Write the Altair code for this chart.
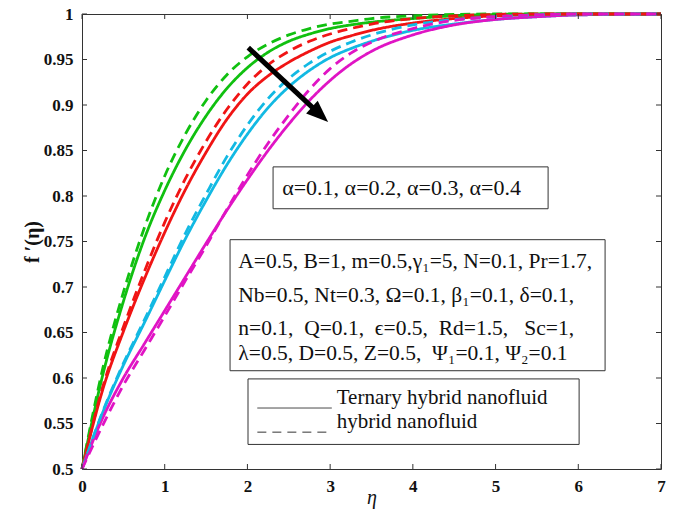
import altair as alt
import pandas as pd

# ---------------- data ----------------
eta = [0, 0.25, 0.5, 0.75, 1, 1.25, 1.5, 1.75, 2, 2.25, 2.5, 2.75, 3, 3.25, 3.5, 4, 4.5, 5, 5.5, 6, 7]

alpha_names = ["α=0.1", "α=0.2", "α=0.3", "α=0.4"]
alpha_colors = ["#10c010", "#f01414", "#12b9e3", "#e014c4"]
fluid_names = ["Ternary hybrid nanofluid", "hybrid nanofluid"]

green_solid = [0.500, 0.603, 0.684, 0.752, 0.806, 0.851, 0.888, 0.918, 0.941, 0.958, 0.970, 0.978, 0.984, 0.988, 0.991, 0.995, 0.998, 0.9995, 1.000, 1.000, 1.000]
green_dash = [0.500, 0.610, 0.694, 0.764, 0.822, 0.868, 0.905, 0.933, 0.953, 0.967, 0.977, 0.984, 0.989, 0.992, 0.995, 0.998, 0.9995, 1.000, 1.000, 1.000, 1.000]
red_solid = [0.500, 0.587, 0.651, 0.708, 0.760, 0.807, 0.848, 0.884, 0.912, 0.932, 0.947, 0.959, 0.969, 0.976, 0.982, 0.990, 0.995, 0.998, 0.9995, 1.000, 1.000]
red_dash = [0.500, 0.590, 0.656, 0.716, 0.771, 0.819, 0.860, 0.895, 0.923, 0.944, 0.959, 0.970, 0.978, 0.984, 0.989, 0.995, 0.998, 0.9995, 1.000, 1.000, 1.000]
cyan_solid = [0.500, 0.562, 0.614, 0.660, 0.707, 0.753, 0.795, 0.834, 0.868, 0.897, 0.920, 0.938, 0.952, 0.962, 0.970, 0.982, 0.989, 0.994, 0.997, 0.999, 1.000]
cyan_dash = [0.500, 0.563, 0.616, 0.663, 0.711, 0.759, 0.802, 0.843, 0.878, 0.907, 0.929, 0.946, 0.959, 0.969, 0.977, 0.988, 0.994, 0.997, 0.999, 1.000, 1.000]
mag_solid = [0.500, 0.556, 0.600, 0.637, 0.674, 0.711, 0.748, 0.784, 0.818, 0.850, 0.879, 0.905, 0.927, 0.945, 0.959, 0.977, 0.988, 0.994, 0.997, 0.999, 1.000]
mag_dash = [0.500, 0.548, 0.592, 0.630, 0.668, 0.707, 0.745, 0.785, 0.823, 0.858, 0.889, 0.917, 0.940, 0.957, 0.969, 0.984, 0.993, 0.997, 0.999, 1.000, 1.000]

x_ticks = [0, 1, 2, 3, 4, 5, 6, 7]
y_ticks = [0.5, 0.55, 0.6, 0.65, 0.7, 0.75, 0.8, 0.85, 0.9, 0.95, 1.0]

# annotation texts and their anchor positions (data units)
NB = "\u00a0"
alpha_text = ["α=0.1, α=0.2, α=0.3, α=0.4"]
alpha_text_pos = [(2.42, 0.809)]
param_lines = [
    "A=0.5, B=1, m=0.5,γ₁=5, N=0.1, Pr=1.7,",
    "Nb=0.5, Nt=0.3, Ω=0.1, β₁=0.1, δ=0.1,",
    f"n=0.1,{NB} Q=0.1,{NB} ϵ=0.5,{NB} Rd=1.5,{NB}{NB} Sc=1,",
    f"λ=0.5, D=0.5, Z=0.5,{NB} Ψ₁=0.1, Ψ₂=0.1",
]
param_x = 1.89
param_y = [0.7275, 0.690, 0.654, 0.626]
legend_x = 3.08
legend_y = [0.578, 0.552]
sample_x = (2.12, 3.02)
sample_y = [0.567, 0.5405]

# boxes: x1, x2, y1, y2
box_x1 = [2.31, 1.79, 2.007]
box_x2 = [5.635, 6.324, 6.01]
box_y1 = [0.832, 0.752, 0.599]
box_y2 = [0.786, 0.608, 0.527]

# arrow
arrow_eta = [2.01, 2.86]
arrow_f = [0.963, 0.891]
arrow_head = (2.853, 0.8915)

# ---------------- build ----------------
series = [
    (alpha_names[0], green_solid, green_dash),
    (alpha_names[1], red_solid, red_dash),
    (alpha_names[2], cyan_solid, cyan_dash),
    (alpha_names[3], mag_solid, mag_dash),
]
rows = []
for fluid_i, fluid in enumerate(fluid_names):
    for name, s, d in series:
        vals = s if fluid_i == 0 else d
        for e, v in zip(eta, vals):
            rows.append({"eta": e, "f": v, "alpha": name, "fluid": fluid, "grp": f"{fluid_i}-{name}"})
df = pd.DataFrame(rows)

W, H = 579, 455
xs = alt.Scale(domain=[0, 7], nice=False, zero=False)
ys = alt.Scale(domain=[0.5, 1.0], nice=False, zero=False)
FONT = "Liberation Serif"

lines = alt.Chart(df).mark_line(strokeWidth=2.8, clip=False, interpolate="monotone").encode(
    x=alt.X("eta:Q", scale=xs, axis=alt.Axis(values=x_ticks, format="d", title="η", titleFontStyle="italic",
                                             titleFontWeight="normal", titleFontSize=20, titlePadding=-7,
                                             labelPadding=9, labelFlush=False)),
    y=alt.Y("f:Q", scale=ys, axis=alt.Axis(values=y_ticks, format="~g", title="f ′(η)",
                                           titleFontWeight="bold", titleFontSize=20, titlePadding=1,
                                           labelPadding=9, labelFlush=False)),
    color=alt.Color("alpha:N", scale=alt.Scale(domain=alpha_names, range=alpha_colors), legend=None),
    strokeDash=alt.StrokeDash("fluid:N", scale=alt.Scale(domain=fluid_names, range=[[1, 0], [10, 6]]), legend=None),
    detail="grp:N",
)

tick_len = 5
xt = pd.DataFrame({"eta": x_ticks})
yt = pd.DataFrame({"f": y_ticks})
tick_color = "#333333"
ticks_bottom = alt.Chart(xt).mark_rule(color=tick_color, strokeWidth=1).encode(
    x=alt.X("eta:Q", scale=xs), y=alt.value(H), y2=alt.value(H - tick_len))
ticks_top = alt.Chart(xt).mark_rule(color=tick_color, strokeWidth=1).encode(
    x=alt.X("eta:Q", scale=xs), y=alt.value(0), y2=alt.value(tick_len))
ticks_left = alt.Chart(yt).mark_rule(color=tick_color, strokeWidth=1).encode(
    y=alt.Y("f:Q", scale=ys), x=alt.value(0), x2=alt.value(tick_len))
ticks_right = alt.Chart(yt).mark_rule(color=tick_color, strokeWidth=1).encode(
    y=alt.Y("f:Q", scale=ys), x=alt.value(W), x2=alt.value(W - tick_len))

boxes_df = pd.DataFrame({"eta": box_x1, "eta2": box_x2, "f": box_y1, "f2": box_y2})
boxes = alt.Chart(boxes_df).mark_rect(fill="white", stroke="#333333", strokeWidth=1).encode(
    x=alt.X("eta:Q", scale=xs), x2="eta2:Q", y=alt.Y("f:Q", scale=ys), y2="f2:Q")

alpha_df = pd.DataFrame({"eta": [p[0] for p in alpha_text_pos], "f": [p[1] for p in alpha_text_pos], "t": alpha_text})
alpha_txt = alt.Chart(alpha_df).mark_text(align="left", baseline="middle", font=FONT, fontSize=22, color="#111").encode(
    x=alt.X("eta:Q", scale=xs), y=alt.Y("f:Q", scale=ys), text="t:N")

param_df = pd.DataFrame({"eta": [param_x] * len(param_lines), "f": param_y, "t": param_lines})
param_txt = alt.Chart(param_df).mark_text(align="left", baseline="middle", font=FONT, fontSize=21.5, color="#111").encode(
    x=alt.X("eta:Q", scale=xs), y=alt.Y("f:Q", scale=ys), text="t:N")

leg_df = pd.DataFrame({"eta": [legend_x] * 2, "f": legend_y, "t": fluid_names})
leg_txt = alt.Chart(leg_df).mark_text(align="left", baseline="middle", font=FONT, fontSize=21, color="#111").encode(
    x=alt.X("eta:Q", scale=xs), y=alt.Y("f:Q", scale=ys), text="t:N")

samp_df = pd.DataFrame({"eta": [sample_x[0]] * 2, "eta2": [sample_x[1]] * 2, "f": sample_y, "fluid": fluid_names})
samples = alt.Chart(samp_df).mark_rule(color="#333333", strokeWidth=1).encode(
    x=alt.X("eta:Q", scale=xs), x2="eta2:Q", y=alt.Y("f:Q", scale=ys),
    strokeDash=alt.StrokeDash("fluid:N", scale=alt.Scale(domain=fluid_names, range=[[1, 0], [9, 6]]), legend=None))

arrow_df = pd.DataFrame({"eta": arrow_eta, "f": arrow_f})
arrow_line = alt.Chart(arrow_df).mark_line(color="black", strokeWidth=5).encode(
    x=alt.X("eta:Q", scale=xs), y=alt.Y("f:Q", scale=ys))
head_df = pd.DataFrame({"eta": [arrow_head[0]], "f": [arrow_head[1]]})
arrow_tip = alt.Chart(head_df).mark_point(shape="M0,-1L0.62,0.6L-0.62,0.6Z", size=760, angle=132.7,
                                          filled=True, color="black", opacity=1).encode(
    x=alt.X("eta:Q", scale=xs), y=alt.Y("f:Q", scale=ys))

chart = alt.layer(
    lines, ticks_bottom, ticks_top, ticks_left, ticks_right,
    boxes, alpha_txt, param_txt, leg_txt, samples, arrow_line, arrow_tip,
).resolve_scale(strokeDash="independent").properties(
    width=W, height=H,
    autosize=alt.AutoSizeParams(type="none"),
    padding={"left": 82, "top": 14, "right": 17, "bottom": 48},
    background="white",
).configure_view(
    stroke="#333333", strokeWidth=1
).configure_axis(
    labelFont=FONT, labelFontWeight="bold", labelFontSize=17, labelColor="#111",
    titleFont=FONT, titleColor="#111", ticks=False, domain=False, grid=False,
)

chart.save("out.html", embed_options={"renderer": "svg", "actions": False})
